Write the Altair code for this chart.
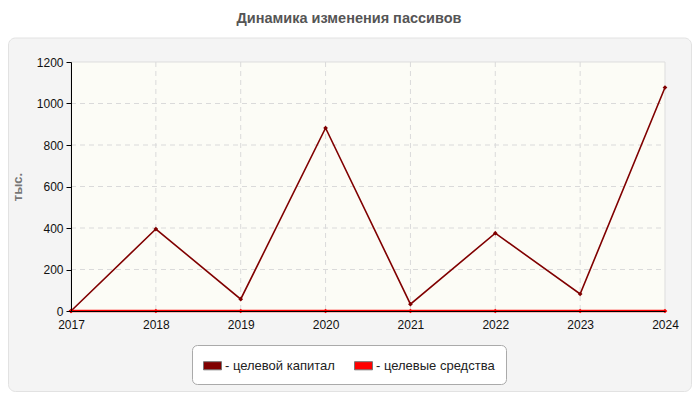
import altair as alt
import pandas as pd

years = [2017, 2018, 2019, 2020, 2021, 2022, 2023, 2024]
capital = [0, 395, 57, 882, 33, 375, 82, 1077]
funds = [0, 0, 0, 0, 0, 0, 0, 0]
series_names = ["целевой капитал", "целевые средства"]
series_colors = ["#800000", "#ff0000"]
y_ticks = [0, 200, 400, 600, 800, 1000, 1200]
y_grid = [200, 400, 600, 800, 1000]
x_grid = [2018, 2019, 2020, 2021, 2022, 2023]

W, H = 594, 249
FONT = "Liberation Sans"

df = pd.DataFrame(
    {"year": years * 2,
     "value": capital + funds,
     "series": [series_names[0]] * len(years) + [series_names[1]] * len(years)}
)

xs = alt.Scale(domain=[2017, 2024], nice=False, zero=False)
ys = alt.Scale(domain=[0, 1200], nice=False)
x_axis = alt.Axis(values=years, format="d", title=None, grid=False, tickSize=0,
                  labelPadding=8, labelFont=FONT, labelFontSize=12, labelColor="#111",
                  labelFlush=False, domainColor="#000", zindex=1)
y_axis = alt.Axis(values=y_ticks, format="d", title="тыс.", grid=False, tickSize=5,
                  tickColor="#000", labelPadding=3, labelFont=FONT, labelFontSize=12,
                  labelColor="#111", labelFlush=False, domainColor="#000", titleFont=FONT,
                  titleFontSize=13, titleColor="#777", titleFontWeight="bold",
                  titlePadding=12, zindex=1)
X = alt.X("year:Q", scale=xs, axis=x_axis)
Y = alt.Y("value:Q", scale=ys, axis=y_axis)
cscale = alt.Scale(domain=series_names, range=series_colors)

one = alt.Data(values=[{"a": 1}])

panel = alt.Chart(one).mark_rect(fill="#f4f4f4", stroke="#e2e2e2", strokeWidth=1,
                                 cornerRadius=7).encode(
    x=alt.value(-62.5), x2=alt.value(620.5), y=alt.value(-24), y2=alt.value(329.5))

plotbg = alt.Chart(one).mark_rect(fill="#fcfcf6", stroke="#dddddd", strokeWidth=1).encode(
    x=alt.value(0), x2=alt.value(W), y=alt.value(0), y2=alt.value(H))

ygrid = alt.Chart(pd.DataFrame({"value": y_grid})).mark_rule(
    color="#dadada", strokeDash=[5, 4], strokeWidth=1).encode(
    y=Y, x=alt.value(0), x2=alt.value(W))

xgrid = alt.Chart(pd.DataFrame({"year": x_grid})).mark_rule(
    color="#dadada", strokeDash=[5, 4], strokeWidth=1).encode(
    x=X, y=alt.value(0), y2=alt.value(H))

base = alt.Chart(df)
line_cap = base.transform_filter(alt.datum.series == series_names[0]).mark_line(
    strokeWidth=1.6, color=series_colors[0]).encode(x=X, y=Y)
line_fund = base.transform_filter(alt.datum.series == series_names[1]).mark_line(
    strokeWidth=2.6, color=series_colors[1]).encode(x=X, y=Y)

pts = base.mark_point(filled=True, shape="diamond", size=22, opacity=1).encode(
    x=X, y=Y,
    fill=alt.Fill("series:N", scale=cscale,
                  legend=alt.Legend(title=None, orient="none", legendX=121, legendY=283,
                                    direction="horizontal", fillColor="white",
                                    strokeColor="#aaaaaa", cornerRadius=5, padding=11,
                                    columnPadding=17,
                                    symbolType="M-1,-0.45L1,-0.45L1,0.45L-1,0.45Z",
                                    symbolSize=324, symbolStrokeColor="#777777",
                                    symbolStrokeWidth=1, labelFont=FONT, labelFontSize=13,
                                    labelColor="#222", labelOffset=3,
                                    labelExpr="'- ' + datum.label", zindex=1)))

chart = alt.layer(panel, plotbg, ygrid, xgrid, line_cap, line_fund, pts).properties(
    width=W, height=H,
    title=alt.TitleParams("Динамика изменения пассивов", font=FONT, fontSize=14.5,
                          fontWeight="bold", color="#555555", anchor="middle",
                          dx=-19, offset=11),
    autosize=alt.AutoSizeParams(type="none"),
    padding={"left": 63, "top": 54, "right": 27, "bottom": 81},
).configure_view(stroke=None, fill=None)

chart.save("out.html", embed_options={"renderer": "svg", "actions": False})
